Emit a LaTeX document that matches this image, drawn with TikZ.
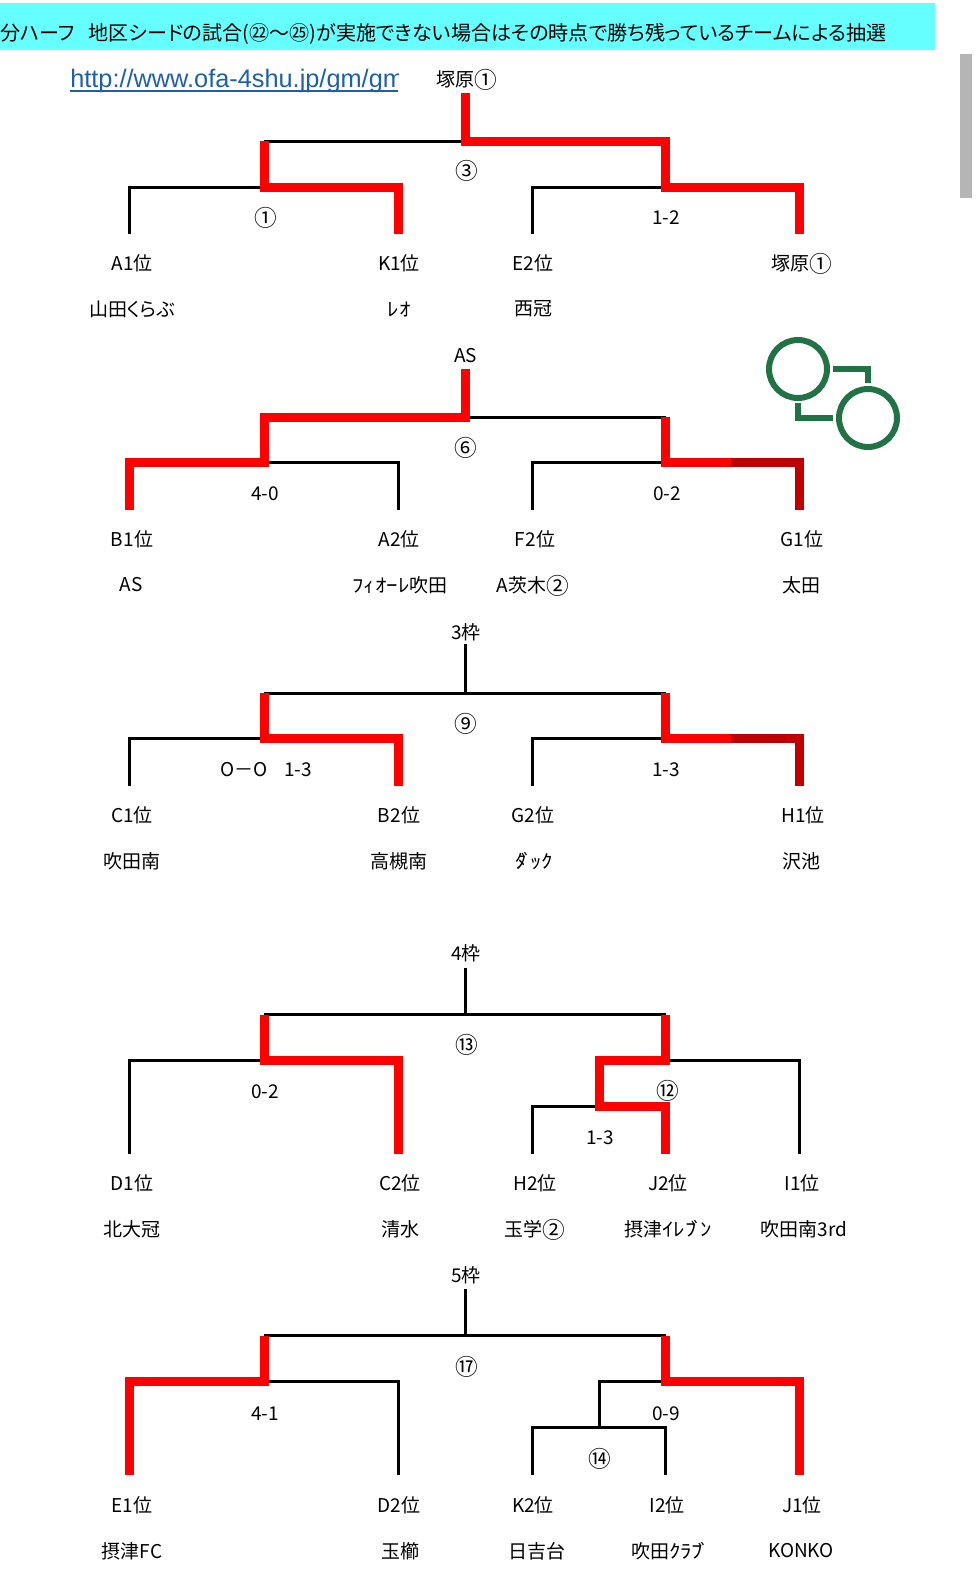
\documentclass[tikz,border=0pt]{standalone}
\usepackage{fontspec}
\setmainfont{Noto Sans CJK JP}[RawFeature=+palt]
\newfontfamily\urlfont{Liberation Sans}
\newfontfamily\kanafont{Noto Sans CJK JP}[FakeStretch=1.2]
\usetikzlibrary{positioning}
\definecolor{sheetcyan}{HTML}{66FFFF}
\definecolor{linkblue}{HTML}{1F5FA8}
\definecolor{darkwin}{HTML}{C00000}
\definecolor{icongreen}{HTML}{217346}
\newcommand{\bigmark}[1]{\smash{\raisebox{-1.6pt}{\fontsize{17}{16}\selectfont #1}}}
\newcommand{\voiced}{\kern-0.26em ﾞ\kern-0.16em}
\tikzset{x=0.75pt,y=-0.75pt,
  lab/.style={inner sep=0pt,font=\fontsize{14.25}{16}\selectfont},
  gamelab/.style={inner sep=0pt,font=\fontsize{17}{20}\selectfont},
  blackline/.style={line width=2.25pt,black},
  redline/.style={line width=6.75pt,red},
  darkline/.style={line width=6.75pt,darkwin},
  iconline/.style={line width=4.5pt,icongreen}}
\begin{document}
\begin{tikzpicture}
\useasboundingbox (0,0) rectangle (978,1574);

% title band and scroll bar
\fill[sheetcyan] (0,3) rectangle (935,50);
\fill[black!29] (960,54) rectangle (972,198);
\node (title) at (0,34) [inner sep=0pt,font=\fontsize{15.05}{16}\selectfont,anchor=west] {分ハーフ\hspace{0.7em}地区シードの試合(㉒～㉕)が実施できない場合はその時点で勝ち残っているチームによる抽選};
\begin{scope}
\clip (60,55) rectangle (398,100);
\node (link) at (70,81) [anchor=west,inner sep=0pt,text=linkblue,font=\urlfont\fontsize{19}{20}\selectfont] {http://www.ofa-4shu.jp/gm/gm};
\end{scope}
\coordinate (linkend) at (398,91);
\coordinate (linkstart) at (70,91);
\draw[linkblue,line width=1.5pt] (linkstart) -- (linkend);

% named points of the five brackets
\foreach \s/\ya/\yb/\yc/\yd in {1/93/141/187/234,2/369/417/462.5/510,3/644/693/738/786,4/968/1014.5/1060/1154,5/1289/1335.5/1381/1475}{
  \coordinate (top\s) at (465,\ya);
  \coordinate (mid\s) at (465,\yb);
  \coordinate (ml\s) at (264,\yb);
  \coordinate (mr\s) at (665.5,\yb);
  \coordinate (jl\s) at (264,\yc);
  \coordinate (jr\s) at (665.5,\yc);
  \coordinate (pa\s) at (129.5,\yd);
  \coordinate (pb\s) at (398,\yd);
  \coordinate (pc\s) at (532,\yd);
  \coordinate (pd\s) at (665.5,\yd);
  \coordinate (pe\s) at (799,\yd);
}
\coordinate (sub4) at (599,1060);
\coordinate (low4) at (599,1106);
\coordinate (ext4) at (665.5,1106);
\coordinate (sub5) at (599,1381);
\coordinate (low5) at (599,1427);
\coordinate (tone2) at (731,462.5);
\coordinate (tone3) at (731,738);

% black lines
\draw[blackline] (top3) -- (mid3);
\draw[blackline] (top4) -- (mid4);
\draw[blackline] (top5) -- (mid5);
\draw[blackline] (ml1) -- (mid1);
\draw[blackline] (mid2) -- (mr2);
\draw[blackline] (ml3) -- (mr3);
\draw[blackline] (ml4) -- (mr4);
\draw[blackline] (ml5) -- (mr5);
\draw[blackline] (pa1) |- (jl1);
\draw[blackline] (pc1) |- (jr1);
\draw[blackline] (jl2) -| (pb2);
\draw[blackline] (pc2) |- (jr2);
\draw[blackline] (pa3) |- (jl3);
\draw[blackline] (pc3) |- (jr3);
\draw[blackline] (pa4) |- (jl4);
\draw[blackline] (jr4) -| (pe4);
\draw[blackline] (pc4) |- (low4);
\draw[blackline] (jl5) -| (pb5);
\draw[blackline] (jr5) -- (sub5) -- (low5);
\draw[blackline] (pc5) |- (low5) -| (pd5);

% winners
\draw[redline] (top1) -- (mid1) -- (mr1) -- (jr1) -| (pe1);
\draw[redline] (ml1) -- (jl1) -| (pb1);
\draw[redline] (top2) -- (mid2) -- (ml2) -- (jl2) -| (pa2);
\draw[redline] (mr2) -- (jr2) -- (tone2);
\draw[darkline] (tone2) -| (pe2);
\draw[redline] (ml3) -- (jl3) -| (pb3);
\draw[redline] (mr3) -- (jr3) -- (tone3);
\draw[darkline] (tone3) -| (pe3);
\draw[redline] (ml4) -- (jl4) -| (pb4);
\draw[redline] (mr4) -- (jr4) -- (sub4) -- (low4) -- (ext4) -- (pd4);
\draw[redline] (ml5) -- (jl5) -| (pa5);
\draw[redline] (mr5) -- (jr5) -| (pe5);

% icon
\node (ringa) at (798,369) [circle,draw=icongreen,line width=4.5pt,minimum size=43.5pt,inner sep=0pt] {};
\node (ringb) at (868,418) [circle,draw=icongreen,line width=4.5pt,minimum size=43.5pt,inner sep=0pt] {};
\coordinate (linka) at (833,369);
\coordinate (linkb) at (868,383);
\coordinate (linkc) at (798,403);
\coordinate (linkd) at (833,418);
\draw[iconline] (linka) -| (linkb);
\draw[iconline] (linkc) |- (linkd);

% bracket 1
\node (head1) at (467,79) [lab] {塚原\bigmark{①}};
\node (game1) at (467,171) [gamelab] {③};
\node (scorea) at (266,218) [gamelab] {①};
\node (scoreb) at (666,218) [lab] {1-2};
\node (a1) at (132,263) [lab] {A1位};
\node (k1) at (399,263) [lab] {K1位};
\node (e2) at (533,263) [lab] {E2位};
\node (t1) at (802,263) [lab] {塚原\bigmark{①}};
\node (a1n) at (132,309) [lab] {山田くらぶ};
\node (k1n) at (399,309) [lab] {\kanafont ﾚｵ};
\node (e2n) at (533,309) [lab] {西冠};

% bracket 2
\node (head2) at (465.5,356) [lab] {AS};
\node (game2) at (466,448) [gamelab] {⑥};
\node (scorec) at (265,494) [lab] {4-0};
\node (scored) at (667,494) [lab] {0-2};
\node (b1) at (132,539) [lab] {B1位};
\node (a2) at (399,539) [lab] {A2位};
\node (f2) at (535,539) [lab] {F2位};
\node (g1) at (802,539) [lab] {G1位};
\node (b1n) at (131,585) [lab] {AS};
\node (a2n) at (400,585) [lab] {{\kanafont ﾌｨｵｰﾚ}吹田};
\node (f2n) at (533,585) [lab] {A茨木\bigmark{②}};
\node (g1n) at (801,585) [lab] {太田};

% bracket 3
\node (head3) at (466,632) [lab] {3枠};
\node (game3) at (466,724) [gamelab] {⑨};
\node (scoree) at (244,770) [lab] {O－O};
\node (scoref) at (298,770) [lab] {1-3};
\node (scoreg) at (666,770) [lab] {1-3};
\node (c1) at (132,815) [lab] {C1位};
\node (b2) at (399,815) [lab] {B2位};
\node (g2) at (533,815) [lab] {G2位};
\node (h1) at (803,815) [lab] {H1位};
\node (c1n) at (132,861) [lab] {吹田南};
\node (b2n) at (399,861) [lab] {高槻南};
\node (g2n) at (534,861) [lab] {\kanafont ﾀ\voiced ｯｸ};
\node (h1n) at (801,861) [lab] {沢池};

% bracket 4
\node (head4) at (466,953) [lab] {4枠};
\node (game4) at (467,1045) [gamelab] {⑬};
\node (scoreh) at (265,1092) [lab] {0-2};
\node (gamei) at (668,1091) [gamelab] {⑫};
\node (scorei) at (600,1138) [lab] {1-3};
\node (d1) at (132,1183) [lab] {D1位};
\node (c2) at (400,1183) [lab] {C2位};
\node (h2) at (535,1183) [lab] {H2位};
\node (j2) at (668,1183) [lab] {J2位};
\node (i1) at (802,1183) [lab] {I1位};
\node (d1n) at (132,1229) [lab] {北大冠};
\node (c2n) at (400,1229) [lab] {清水};
\node (h2n) at (535,1229) [lab] {玉学\bigmark{②}};
\node (j2n) at (668,1229) [lab] {摂津{\kanafont ｲﾚﾌ\voiced ﾝ}};
\node (i1n) at (804,1229) [lab] {吹田南3rd};

% bracket 5
\node (head5) at (466,1275) [lab] {5枠};
\node (game5) at (467,1367) [gamelab] {⑰};
\node (scorej) at (265,1414) [lab] {4-1};
\node (scorek) at (666,1414) [lab] {0-9};
\node (gamek) at (600,1459) [gamelab] {⑭};
\node (e1) at (132,1505) [lab] {E1位};
\node (d2) at (399,1505) [lab] {D2位};
\node (k2) at (533,1505) [lab] {K2位};
\node (i2) at (667,1505) [lab] {I2位};
\node (j1) at (802,1505) [lab] {J1位};
\node (e1n) at (132,1551) [lab] {摂津FC};
\node (d2n) at (400,1551) [lab] {玉櫛};
\node (k2n) at (537,1551) [lab] {日吉台};
\node (i2n) at (669,1551) [lab] {吹田{\kanafont ｸﾗﾌ\voiced}};
\node (j1n) at (801,1551) [lab] {KONKO};

\end{tikzpicture}
\end{document}
